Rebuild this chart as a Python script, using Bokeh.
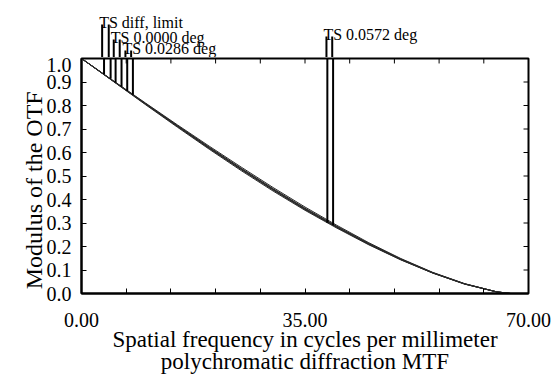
import numpy as np
from bokeh.plotting import figure
from bokeh.layouts import column, row
from bokeh.models import Range1d, FixedTicker, PrintfTickFormatter
from bokeh.core.properties import value
from bokeh.embed import file_html
from bokeh.resources import INLINE

# ---------------- data ----------------
freq = [0, 5, 10, 15, 20, 25, 30, 35, 40, 45, 50, 55, 60, 65, 67.2]
mtf_diff   = [1.000, 0.905, 0.811, 0.718, 0.627, 0.538, 0.451, 0.368, 0.290, 0.216, 0.149, 0.090, 0.042, 0.007, 0.000]
mtf_0000   = [1.000, 0.904, 0.809, 0.715, 0.623, 0.533, 0.446, 0.363, 0.286, 0.213, 0.147, 0.089, 0.041, 0.007, 0.000]
mtf_0286_t = [1.000, 0.903, 0.807, 0.712, 0.619, 0.529, 0.442, 0.359, 0.282, 0.210, 0.145, 0.088, 0.041, 0.007, 0.000]
mtf_0286_s = [1.000, 0.904, 0.808, 0.714, 0.621, 0.531, 0.444, 0.361, 0.284, 0.211, 0.146, 0.088, 0.041, 0.007, 0.000]
mtf_0572_t = [1.000, 0.902, 0.804, 0.708, 0.614, 0.523, 0.436, 0.354, 0.278, 0.207, 0.143, 0.087, 0.040, 0.007, 0.000]
mtf_0572_s = [1.000, 0.903, 0.806, 0.711, 0.617, 0.527, 0.440, 0.357, 0.281, 0.209, 0.144, 0.087, 0.040, 0.007, 0.000]

legend_labels = ["TS diff, limit", "TS 0.0000 deg", "TS 0.0286 deg", "TS 0.0572 deg"]
legend_t_freq = [3.53, 5.34, 7.16, 38.5]
legend_s_freq = [4.56, 6.27, 8.05, 39.4]

x_tick_values = [0, 35, 70]
x_minor_values = [7, 14, 21, 28, 42, 49, 56, 63]
y_tick_values = [0.0, 0.1, 0.2, 0.3, 0.4, 0.5, 0.6, 0.7, 0.8, 0.9, 1.0]

x_title = "Spatial frequency in cycles per millimeter"
x_subtitle = "polychromatic diffraction MTF"
y_title = "Modulus of the OTF"

# ---------------- layout constants ----------------
FONT = "Liberation Serif"
W, H = 555, 376
FRAME_LEFT = 79                      # page x of the plot box
RIGHT = 27
FRAME_W = W - FRAME_LEFT - RIGHT     # 449
FRAME_TOP = 58
FRAME_H = 236
TOP_H = FRAME_TOP - 1                # legend strip height
MAIN_H = H - TOP_H
BOT_BORDER = MAIN_H - 1 - FRAME_H
LEFT_STRIP = 43
X0, X1 = 0, 70
PX_X = FRAME_W / (X1 - X0)
PX_Y = FRAME_H
TICK = 5
Y_TITLE_POS = 140                    # strip units (empirically centred)

# legend label heights above the box top (px) for each label row
label_rise_px = [36, 21, 10, 24]

curves_t = [mtf_diff, mtf_0000, mtf_0286_t, mtf_0572_t]
curves_s = [mtf_diff, mtf_0000, mtf_0286_s, mtf_0572_s]

line_x, line_y0, line_y1 = [], [], []
for tx, sx, ct, cs, rise in zip(legend_t_freq, legend_s_freq, curves_t, curves_s, label_rise_px):
    top = 1.0 + (rise - 2) / PX_Y
    for fx, cv in ((tx, ct), (sx, cs)):
        line_x.append(fx)
        line_y0.append(float(np.interp(fx, freq, cv)))
        line_y1.append(top)

x_range = Range1d(X0, X1)

# ---------------- top strip (legend labels) ----------------
pt = figure(width=W, height=TOP_H, x_range=x_range,
            y_range=Range1d(1.0 + 1 / PX_Y, 1.0 + (TOP_H + 1) / PX_Y),
            x_axis_type=None, y_axis_type=None,
            output_backend="svg", toolbar_location=None,
            min_border_left=FRAME_LEFT, min_border_right=RIGHT,
            min_border_top=0, min_border_bottom=0)
pt.outline_line_color = None
pt.grid.visible = False
pt.segment(x0=line_x, y0=[1.0] * len(line_x), x1=line_x, y1=line_y1,
           line_color="black", line_width=2)
pt.text(x=legend_t_freq,
        y=[1.0 + r / PX_Y for r in label_rise_px],
        text=legend_labels, x_offset=-3,
        text_font=value(FONT), text_font_size="16px",
        text_baseline="alphabetic", text_align="left", text_color="black")

# ---------------- left strip (y title) ----------------
pl = figure(width=LEFT_STRIP, height=MAIN_H,
            x_range=Range1d(0, LEFT_STRIP), y_range=Range1d(0, MAIN_H),
            x_axis_type=None, y_axis_type=None,
            output_backend="svg", toolbar_location=None,
            min_border_left=0, min_border_right=0,
            min_border_top=0, min_border_bottom=0)
pl.outline_line_color = None
pl.grid.visible = False
pl.text(x=[33], y=[Y_TITLE_POS], text=[y_title], angle=np.pi / 2,
        text_font=value(FONT), text_font_size="24px",
        text_baseline="middle", text_align="center", text_color="black")

# ---------------- main plot ----------------
p = figure(width=W - LEFT_STRIP, height=MAIN_H, x_range=x_range, y_range=Range1d(0, 1.0),
           output_backend="svg", toolbar_location=None,
           min_border_left=FRAME_LEFT - LEFT_STRIP, min_border_right=RIGHT,
           min_border_top=1, min_border_bottom=BOT_BORDER)
p.grid.visible = False
p.outline_line_color = "black"
p.outline_line_width = 2

for series in (mtf_diff, mtf_0000, mtf_0286_t, mtf_0286_s, mtf_0572_t, mtf_0572_s):
    p.line(freq, series, line_color="#2a2a2a", line_width=1)

p.segment(x0=line_x, y0=line_y0, x1=line_x, y1=[1.0] * len(line_x),
          line_color="black", line_width=2)

# ticks on top and right edges (inward)
top_ticks = x_minor_values + x_tick_values[1:-1]
p.segment(x0=top_ticks, y0=[1.0] * len(top_ticks), x1=top_ticks,
          y1=[1.0 - TICK / PX_Y] * len(top_ticks), line_color="black", line_width=1)
right_ticks = y_tick_values[1:-1]
p.segment(x0=[X1] * len(right_ticks), y0=right_ticks,
          x1=[X1 - TICK / PX_X] * len(right_ticks), y1=right_ticks,
          line_color="black", line_width=1)

xa = p.xaxis[0]
xa.ticker = FixedTicker(ticks=x_tick_values, minor_ticks=x_minor_values)
xa.formatter = PrintfTickFormatter(format="%.2f")
xa.major_tick_in = TICK
xa.major_tick_out = 0
xa.minor_tick_in = TICK
xa.minor_tick_out = 0
xa.axis_line_width = 2
xa.major_label_standoff = 19
xa.major_label_text_font = FONT
xa.major_label_text_font_size = "20px"
xa.major_label_text_color = "black"
xa.axis_label = x_title + "\n" + x_subtitle
xa.axis_label_standoff = -3
xa.axis_label_text_font = FONT
xa.axis_label_text_font_size = "23px"
xa.axis_label_text_font_style = "normal"
xa.axis_label_text_color = "black"
xa.axis_label_text_line_height = 0.88

ya = p.yaxis[0]
ya.ticker = FixedTicker(ticks=y_tick_values)
ya.formatter = PrintfTickFormatter(format="%.1f")
ya.major_tick_in = TICK
ya.major_tick_out = 0
ya.minor_tick_in = 0
ya.minor_tick_out = 0
ya.axis_line_width = 2
ya.major_label_standoff = 10
ya.major_label_text_font = FONT
ya.major_label_text_font_size = "20px"
ya.major_label_text_color = "black"

layout = column(pt, row(pl, p, spacing=0), spacing=0)
open("out.html", "w").write(file_html(layout, INLINE))
